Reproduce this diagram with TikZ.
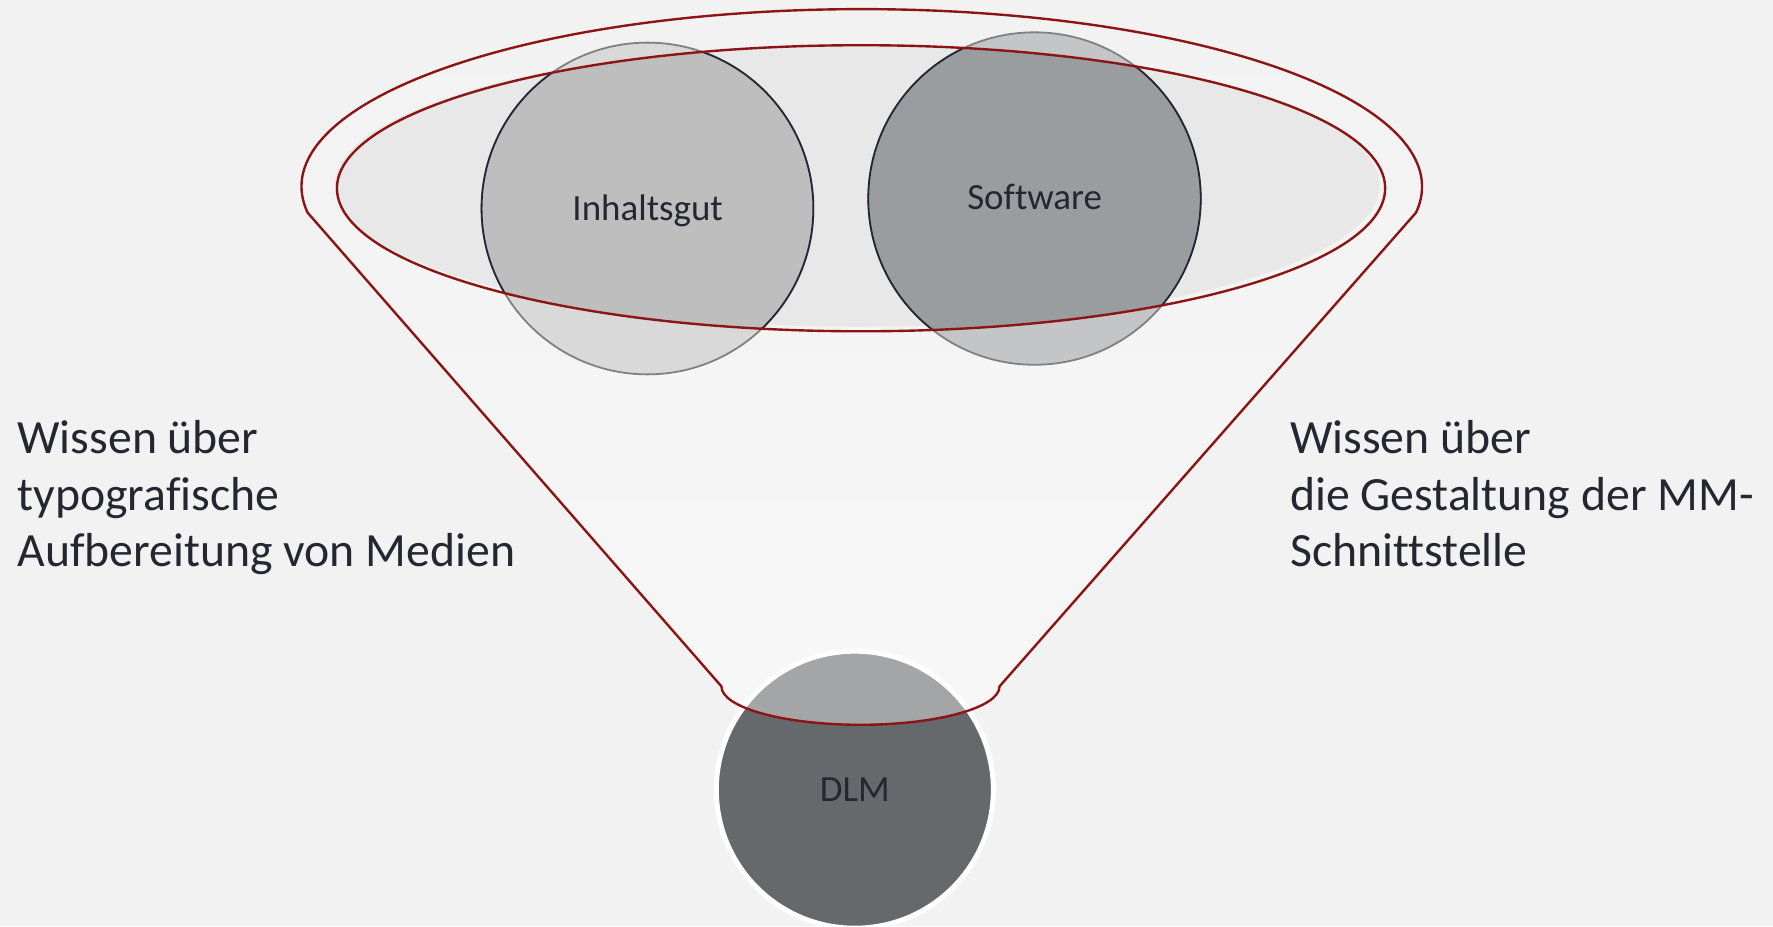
\documentclass[tikz,border=0pt]{standalone}
\usepackage{fontspec}
\setmainfont{Carlito}[Ligatures=NoCommon]
\usepackage{tikz}
\usetikzlibrary{calc}
\definecolor{wwwwww}{rgb}{0.949,0.949,0.949}
\definecolor{fsfsfs}{rgb}{0.969,0.969,0.969}
\definecolor{eueueu}{rgb}{0.91,0.91,0.91}
\definecolor{ttqqqq}{rgb}{0.55,0.08,0.08}
\definecolor{dhdhdh}{rgb}{0.851,0.851,0.851}
\definecolor{bebebe}{rgb}{0.745,0.745,0.745}
\definecolor{cucvcw}{rgb}{0.769,0.773,0.78}
\definecolor{zazdqa}{rgb}{0.604,0.616,0.627}
\definecolor{kfkhkk}{rgb}{0.4,0.412,0.424}
\definecolor{akakak}{rgb}{0.643,0.647,0.651}
\definecolor{ccccdd}{rgb}{0.149,0.149,0.2}
\definecolor{xfxfxf}{rgb}{0.5,0.5,0.5}
\newcommand{\trichter}{(272,188) arc [start angle=171.6,end angle=368.4,x radius=495.5,y radius=157] -- (884,607) arc [start angle=0,end angle=180,x radius=123,y radius=34] -- cycle}
\tikzstyle{every node}=[font=\fontsize{9.3}{11}\selectfont,text=ccccdd]
\begin{document}
\begin{tikzpicture}[line cap=round,line join=round,x=0.01cm,y=-0.01cm]
            \fill[color=wwwwww] (0,0) rectangle (1568,819);
            \useasboundingbox (0,0) rectangle (1568,819);
            \clip(0,0) rectangle (1568,819);
            \shade[top color=wwwwww,middle color=fsfsfs,bottom color=fsfsfs] \trichter;
            \fill[color=eueueu] (758,164) ellipse [x radius=462,y radius=125];
            \fill[color=dhdhdh] (572.6,184.4) circle [radius=146.7];
            \fill[color=cucvcw] (914.9,175.6) circle [radius=147];
            \draw[line width=0.45pt,color=xfxfxf] (572.6,184.4) circle [radius=146.7];
            \draw[line width=0.45pt,color=xfxfxf] (914.9,175.6) circle [radius=147];
            \begin{scope}
            \clip (761.5,166.5) ellipse [x radius=463.5,y radius=126.5];
            \fill[color=bebebe] (572.6,184.4) circle [radius=146.7];
            \fill[color=zazdqa] (914.9,175.6) circle [radius=147];
            \draw[line width=0.45pt,color=ccccdd] (572.6,184.4) circle [radius=146.7];
            \draw[line width=0.45pt,color=ccccdd] (914.9,175.6) circle [radius=147];
            \end{scope}
            \draw[line width=0.6pt,color=ttqqqq] (761.5,166.5) ellipse [x radius=463.5,y radius=126.5];
            \fill[color=kfkhkk] (756,698.4) circle [radius=122.5];
            \begin{scope}
            \clip \trichter;
            \fill[color=akakak] (756,698.4) circle [radius=122.5];
            \end{scope}
            \draw[line width=1.25pt,color=white] (756,698.4) circle [radius=122.5];
            \draw[line width=0.6pt,color=ttqqqq] \trichter;
            \node[anchor=base] (inhalt) at (572.8,195.2) {Inhaltsgut};
            \node[anchor=base] (soft) at (915,185.1) {Software};
            \node[anchor=base] (dlm) at (756,708.4) {DLM};
            \node[anchor=base west,inner sep=0pt,align=left,font=\fontsize{12}{14.3}\selectfont] (links) at (14.8,501.4) {Wissen über\\typografische\\Aufbereitung von Medien};
            \node[anchor=base west,inner sep=0pt,align=left,font=\fontsize{12}{14.3}\selectfont] (rechts) at (1140.3,501.4) {Wissen über\\die Gestaltung der MM-\\Schnittstelle};
            \end{tikzpicture}
\end{document}
